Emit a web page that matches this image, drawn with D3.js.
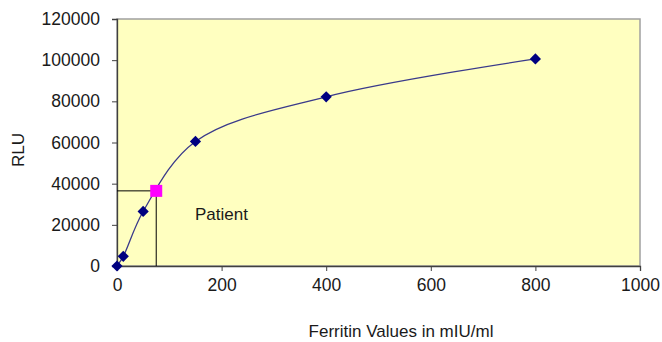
<!DOCTYPE html>
<html><head><meta charset="utf-8">
<script src="https://cdn.jsdelivr.net/npm/d3@7"></script>
<style>body{margin:0;background:#fff}svg{display:block}text{font-family:"Liberation Sans",Arial,sans-serif}</style>
</head><body>
<svg id="c" width="662" height="342"></svg>
<script>
const ferritin = [0, 12, 50, 150, 400, 800];
const rlu = [0, 4700, 26500, 60500, 82200, 100600];
const patient = {x: 75, y: 36500, label: "Patient"};
const xTicks = [0, 200, 400, 600, 800, 1000];
const yTicks = [0, 20000, 40000, 60000, 80000, 100000, 120000];
const xTitle = "Ferritin Values in mIU/ml";
const yTitle = "RLU";

const svg = d3.select("#c");
const L = 117, R = 640, T = 19, B = 266;
const x = d3.scaleLinear().domain([0, 1000]).range([L, R]);
const y = d3.scaleLinear().domain([0, 120000]).range([B, T]);

svg.append("rect").attr("x", L).attr("y", T).attr("width", R - L).attr("height", B - T)
  .attr("fill", "#FFFFC0").attr("stroke", "#A0A0A0").attr("stroke-width", 1.5);

const ax = svg.append("g").attr("transform", `translate(0,${B})`)
  .call(d3.axisBottom(x).tickValues(xTicks).tickSize(5).tickPadding(8).tickFormat(d3.format("d")));
const ay = svg.append("g").attr("transform", `translate(${L},0)`)
  .call(d3.axisLeft(y).tickValues(yTicks).tickSize(5).tickPadding(12).tickFormat(d3.format("d")));
[ax, ay].forEach(g => {
  g.select(".domain").attr("stroke", "#404040").attr("stroke-width", 1.3);
  g.selectAll(".tick line").attr("stroke", "#404040");
  g.selectAll("text").attr("font-size", 17.5).attr("fill", "#1a1a1a").attr("font-family", '"Liberation Sans",Arial,sans-serif');
});

const pts = ferritin.map((f, i) => [f, rlu[i]]);
svg.append("path").datum(pts)
  .attr("d", d3.line().x(d => x(d[0])).y(d => y(d[1])).curve(d3.curveCatmullRom))
  .attr("fill", "none").attr("stroke", "#3a3a8a").attr("stroke-width", 1.3);

svg.append("path")
  .attr("d", `M${x(0)},${y(patient.y)}H${x(patient.x)}V${y(0)}`)
  .attr("fill", "none").attr("stroke", "#000").attr("stroke-width", 1);

svg.append("g").selectAll("path").data(pts).join("path")
  .attr("transform", d => `translate(${x(d[0])},${y(d[1])})`)
  .attr("d", d3.symbol(d3.symbolDiamond2, 80))
  .attr("fill", "#000080");

const s = 12;
svg.append("rect").attr("x", x(patient.x) - s / 2).attr("y", y(patient.y) - s / 2)
  .attr("width", s).attr("height", s).attr("fill", "#FF00FF");

svg.append("text").attr("x", 195).attr("y", 220).attr("font-size", 17).attr("fill", "#1a1a1a").text(patient.label);

svg.append("text").attr("x", 401).attr("y", 337).attr("text-anchor", "middle")
  .attr("font-size", 17).attr("fill", "#1a1a1a").text(xTitle);
svg.append("text").attr("transform", "translate(24,150) rotate(-90)").attr("text-anchor", "middle")
  .attr("font-size", 17).attr("fill", "#1a1a1a").text(yTitle);
</script>
</body></html>
